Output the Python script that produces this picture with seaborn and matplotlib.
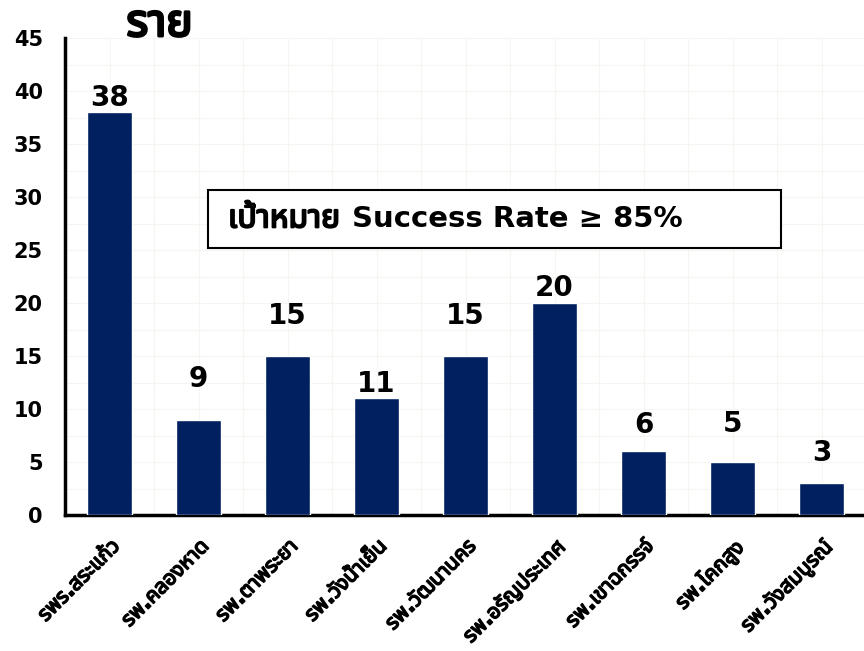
import matplotlib
matplotlib.use('Agg')
import matplotlib.pyplot as plt
import matplotlib.patches as mpatches
import matplotlib.patheffects as pe
from matplotlib.ticker import MultipleLocator, FixedLocator
import seaborn as sns
import pandas as pd

# ── Data ───────────────────────────────────────────────
HOSPITALS = ['รพร.สระแก้ว', 'รพ.คลองหาด', 'รพ.ตาพระยา', 'รพ.วังน้ำเย็น',
             'รพ.วัฒนานคร', 'รพ.อรัญประเทศ', 'รพ.เขาฉกรรจ์', 'รพ.โคกสูง',
             'รพ.วังสมบูรณ์']
CASES = [38, 9, 15, 11, 15, 20, 6, 5, 3]
UNIT_LABEL = 'ราย'
TARGET_THAI = 'เป้าหมาย'
TARGET_REST = 'Success Rate ≥ 85%'

# label gap above each bar (points) - style only
LABEL_PAD = [0, 19, 19, 0, 19, 1, 9, 17, 12]

BAR_CLR = '#002060'
GRID_CLR = '#f6f6f0'
# Thai font has no bold face here, so thicken with a stroke
BOLD = [pe.withStroke(linewidth=1.1, foreground='black')]

sns.set_style('white')
plt.rcParams.update({
    'font.family': ['DejaVu Sans', 'Noto Sans Thai', 'Noto Sans Thai UI'],
    'text.color': 'black',
    'xtick.color': 'black',
    'ytick.color': 'black',
    'axes.unicode_minus': False,
})

df = pd.DataFrame({'hospital': HOSPITALS, 'cases': CASES})

fig = plt.figure(figsize=(8.64, 6.51), dpi=100, facecolor='white')
ax = fig.add_axes([65 / 864, 136 / 651, 801 / 864, 477 / 651])

sns.barplot(data=df, x='hospital', y='cases', color=BAR_CLR, width=0.5,
            saturation=1, ax=ax, zorder=3)

for i, (v, pad) in enumerate(zip(CASES, LABEL_PAD)):
    ax.annotate(str(v), (i, v), xytext=(0, pad), textcoords='offset points',
                ha='center', va='bottom', fontsize=20, fontweight='bold',
                color='black', zorder=4)

ax.set_xlim(-0.5, len(HOSPITALS) - 0.5)
ax.set_ylim(0, 45)
ax.yaxis.set_major_locator(MultipleLocator(5))

# faint grid
ax.yaxis.set_minor_locator(MultipleLocator(2.5))
ax.xaxis.set_minor_locator(FixedLocator([i + 0.5 for i in range(-1, len(HOSPITALS))]))
ax.grid(which='both', color=GRID_CLR, linewidth=0.8, zorder=0)
ax.set_axisbelow(True)

for s in ['top', 'right']:
    ax.spines[s].set_visible(False)
for s in ['left', 'bottom']:
    ax.spines[s].set_linewidth(2.5)
    ax.spines[s].set_color('black')

ax.tick_params(axis='y', which='major', direction='in', length=7, width=2,
               labelsize=15, pad=16)
ax.tick_params(axis='y', which='minor', length=0)
ax.tick_params(axis='x', which='major', length=0, pad=15)
ax.tick_params(axis='x', which='minor', direction='in', length=7, width=2)
for t in ax.get_yticklabels():
    t.set_fontweight('bold')

ax.set_xticks(range(len(HOSPITALS)))
ax.set_xticklabels(HOSPITALS, rotation=45, ha='right', rotation_mode='anchor',
                   fontsize=15, fontweight='bold')
for t in ax.get_xticklabels():
    t.set_path_effects(BOLD)
ax.set_xlabel('')
ax.set_ylabel('')

ax.text(0.118, 1.004, UNIT_LABEL, transform=ax.transAxes, ha='center',
        va='baseline', fontsize=32, fontweight='bold', clip_on=False,
        path_effects=[pe.withStroke(linewidth=2, foreground='black')])

# target box
box = mpatches.Rectangle((0.1785, 0.560), 0.715, 0.1216, transform=ax.transAxes,
                         facecolor='white', edgecolor='black', linewidth=1.5,
                         zorder=5)
ax.add_patch(box)
BASE_Y = 0.603
t1 = ax.text(0.2035, BASE_Y, TARGET_THAI, transform=ax.transAxes, ha='left',
             va='baseline', fontsize=23, zorder=6,
             path_effects=[pe.withStroke(linewidth=1.4, foreground='black')])
fig.canvas.draw()
x_end = ax.transAxes.inverted().transform(
    t1.get_window_extent(fig.canvas.get_renderer()).p1)[0]
ax.text(x_end + 12 / 801, BASE_Y, TARGET_REST, transform=ax.transAxes,
        ha='left', va='baseline', fontsize=21, fontweight='bold', zorder=6)

fig.savefig('out.png', dpi=100, facecolor='white')
